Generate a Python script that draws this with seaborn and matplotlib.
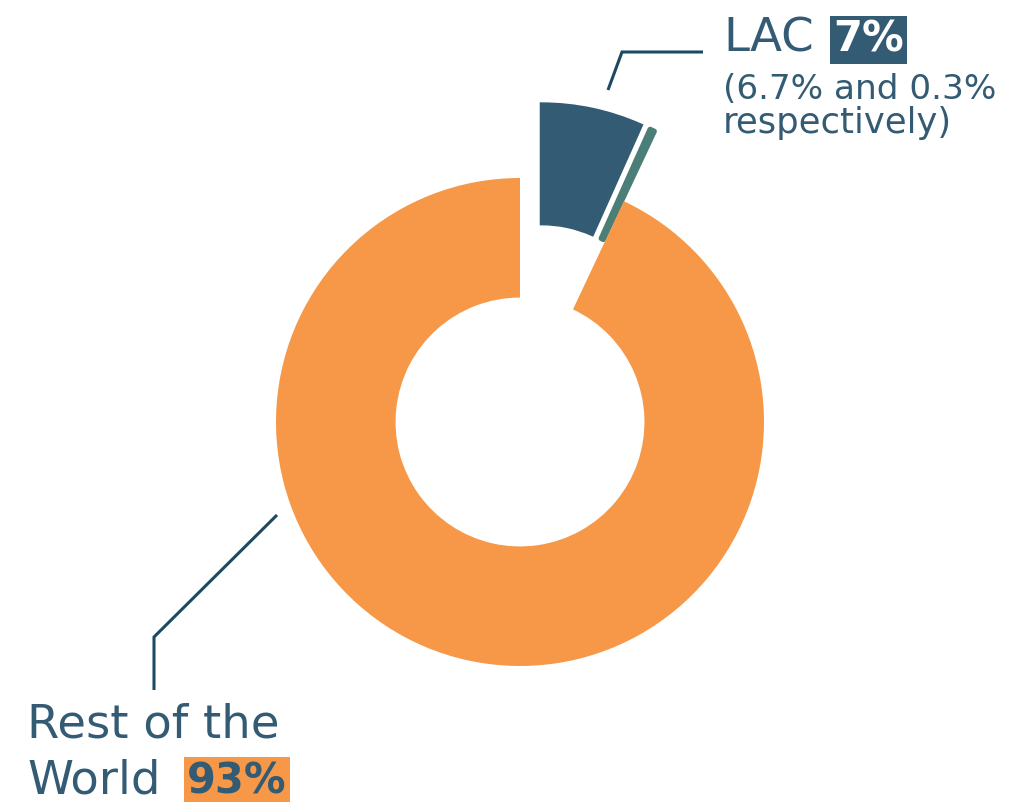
import matplotlib
matplotlib.use("Agg")
import matplotlib.pyplot as plt
import seaborn as sns
import numpy as np

# Share of the total, in percent
segments = ["LAC (part 1)", "LAC (part 2)", "Rest of the World"]
shares = [6.7, 0.3, 93.0]
lac_label = "7%"
row_label = "93%"

sns.set_theme(style="white")
plt.rcParams["font.family"] = ["DejaVu Sans"]

palette = sns.color_palette(["#345b74", "#4b7e77", "#f69848"])
text_color = "#345b74"
line_color = "#1b4a62"

W, H = 1014, 802
fig = plt.figure(figsize=(W / 100, H / 100), dpi=100)
ax = fig.add_axes([0, 0, 1, 1])

# Pixel layout helpers: ring centre and outer radius in pixels
R_PX = 244.0
CX, CY = 520.0, 422.0


def px(x, y):
    return (x - CX) / R_PX, (CY - y) / R_PX


wedges, _ = ax.pie(
    shares,
    colors=palette,
    startangle=90,
    counterclock=False,
    radius=1.0,
    wedgeprops=dict(width=0.49, linewidth=0),
)

# Pull the two LAC pieces out of the ring together
lac_offset = np.array([0.088, 0.303])
wedges[0].set_center(tuple(lac_offset))
wedges[0].set_edgecolor(palette[0])
wedges[0].set_linewidth(2.5)

# Small piece: nudged off the edge of its neighbour and outlined so it stays visible
edge_angle = np.deg2rad(90 - 360 * shares[0] / sum(shares))
normal = np.array([np.sin(edge_angle), -np.cos(edge_angle)])
wedges[1].set_center(tuple(lac_offset + 0.04 * normal))
wedges[1].set_edgecolor(palette[1])
wedges[1].set_linewidth(3.8)
wedges[1].set_joinstyle("round")

ax.set_aspect("auto")
ax.set_xlim(-CX / R_PX, (W - CX) / R_PX)
ax.set_ylim(-(H - CY) / R_PX, CY / R_PX)
ax.axis("off")

# Leader lines
for pts in ([(608, 90), (622, 52), (703, 52)],
            [(277, 515), (154, 637), (154, 690)]):
    xy = np.array([px(*p) for p in pts])
    ax.plot(xy[:, 0], xy[:, 1], color=line_color, lw=2.2,
            solid_capstyle="butt", solid_joinstyle="miter")

# Labels
ax.text(*px(723, 52), "LAC", fontsize=33.6, color=text_color,
        ha="left", va="baseline")
ax.text(*px(833, 52), lac_label, fontsize=30, fontweight="bold", color="white",
        ha="left", va="baseline",
        bbox=dict(boxstyle="square,pad=0.08", fc=palette[0], ec="none"))
ax.text(*px(723, 99), f"({shares[0]}% and {shares[1]}%", fontsize=24.7,
        color=text_color, ha="left", va="baseline")
ax.text(*px(723, 133), "respectively)", fontsize=25.5,
        color=text_color, ha="left", va="baseline")

ax.text(*px(27, 738), "Rest of the", fontsize=33.5, color=text_color,
        ha="left", va="baseline")
ax.text(*px(27, 793), "World", fontsize=33.5, color=text_color,
        ha="left", va="baseline")
ax.text(*px(187, 793), row_label, fontsize=30, fontweight="bold",
        color=text_color, ha="left", va="baseline",
        bbox=dict(boxstyle="square,pad=0.08", fc=palette[2], ec="none"))

fig.savefig("out.png", dpi=100)
